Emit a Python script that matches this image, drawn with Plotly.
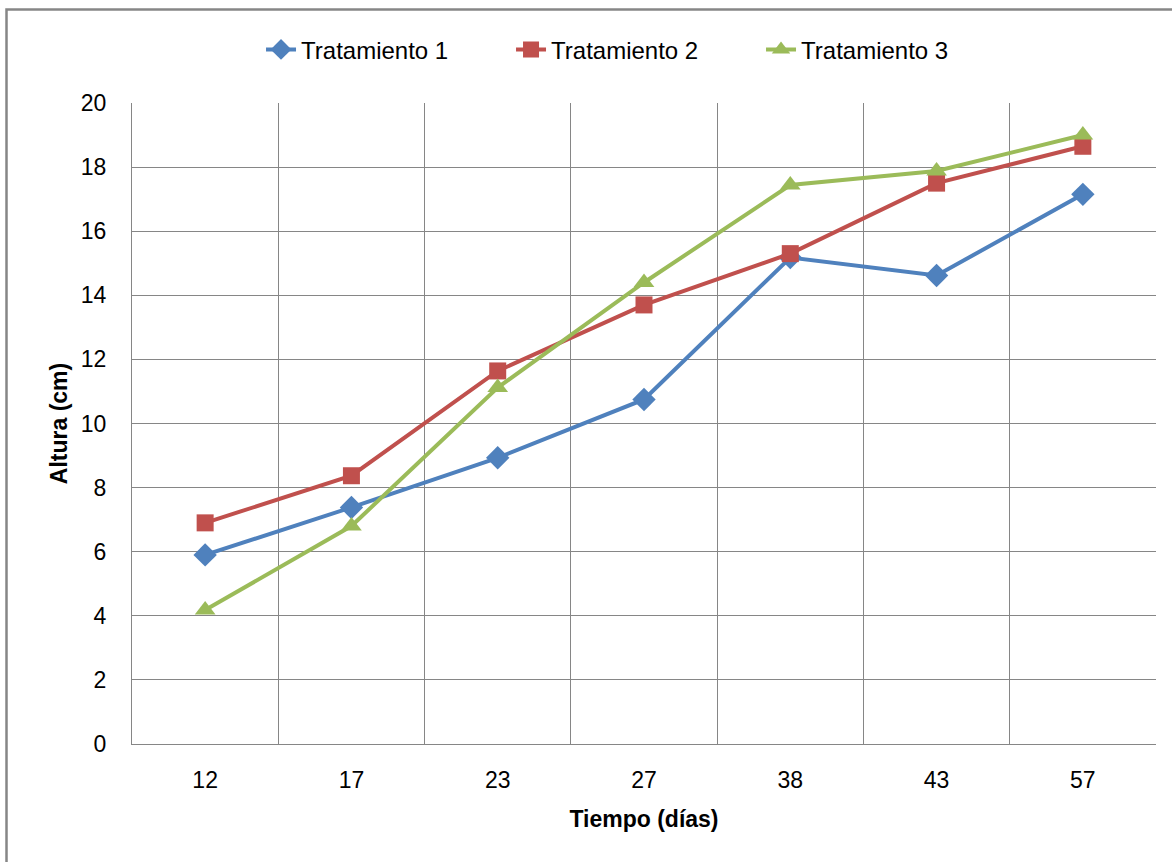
import plotly.graph_objects as go

dias = ["12", "17", "23", "27", "38", "43", "57"]
trat1 = [5.9, 7.38, 8.93, 10.75, 15.18, 14.62, 17.15]
trat2 = [6.9, 8.37, 11.64, 13.7, 15.3, 17.5, 18.65]
trat3 = [4.18, 6.8, 11.12, 14.4, 17.44, 17.88, 19.0]
y_ticks = [0, 2, 4, 6, 8, 10, 12, 14, 16, 18, 20]

series = [
    ("Tratamiento 1", trat1, "#4F81BD", "diamond", 18),
    ("Tratamiento 2", trat2, "#C0504D", "square", 17),
    ("Tratamiento 3", trat3, "#9BBB59", "triangle-up", 18),
]

fig = go.Figure()
for name, vals, col, sym, sz in series:
    fig.add_trace(go.Scatter(
        x=dias, y=vals, name=name, mode="lines+markers",
        line=dict(color=col, width=4),
        marker=dict(symbol=sym, size=sz, color=col),
    ))

grid = "#868686"
fig.update_layout(
    width=1172, height=862,
    margin=dict(l=132, r=16, t=103, b=118),
    paper_bgcolor="white", plot_bgcolor="white",
    font=dict(family="Liberation Sans, Arial, sans-serif", size=23, color="black"),
    legend=dict(orientation="h", x=0.126, xanchor="left", y=1.083, yanchor="middle",
                font=dict(size=24), entrywidth=205, entrywidthmode="pixels"),
    xaxis=dict(type="category", range=[-0.5, 6.5], tickson="boundaries",
               showgrid=True, gridcolor=grid, gridwidth=1.3,
               showline=True, linecolor=grid, linewidth=1.3, ticks="",
               title=dict(text="<b>Tiempo (días)</b>", font=dict(size=23), standoff=19),
               ticklabelstandoff=15),
    yaxis=dict(range=[0, 20], tickvals=y_ticks, showgrid=True, gridcolor=grid, gridwidth=1.3,
               showline=True, linecolor=grid, linewidth=1.3, ticks="",
               title=dict(text="<b>Altura (cm)</b>", font=dict(size=23), standoff=6),
               ticklabelstandoff=20, zeroline=False),
    shapes=[dict(type="rect", xref="paper", yref="paper",
                 x0=(6.5 - 132) / 1024, x1=1.2, y0=-0.3, y1=(744 - 9.5) / 641,
                 line=dict(color="#868686", width=2.5), fillcolor="rgba(0,0,0,0)", layer="below")],
    showlegend=True,
)
fig.write_html("out.html", config={"displayModeBar": False},
               post_script="document.body.style.margin='0';")
